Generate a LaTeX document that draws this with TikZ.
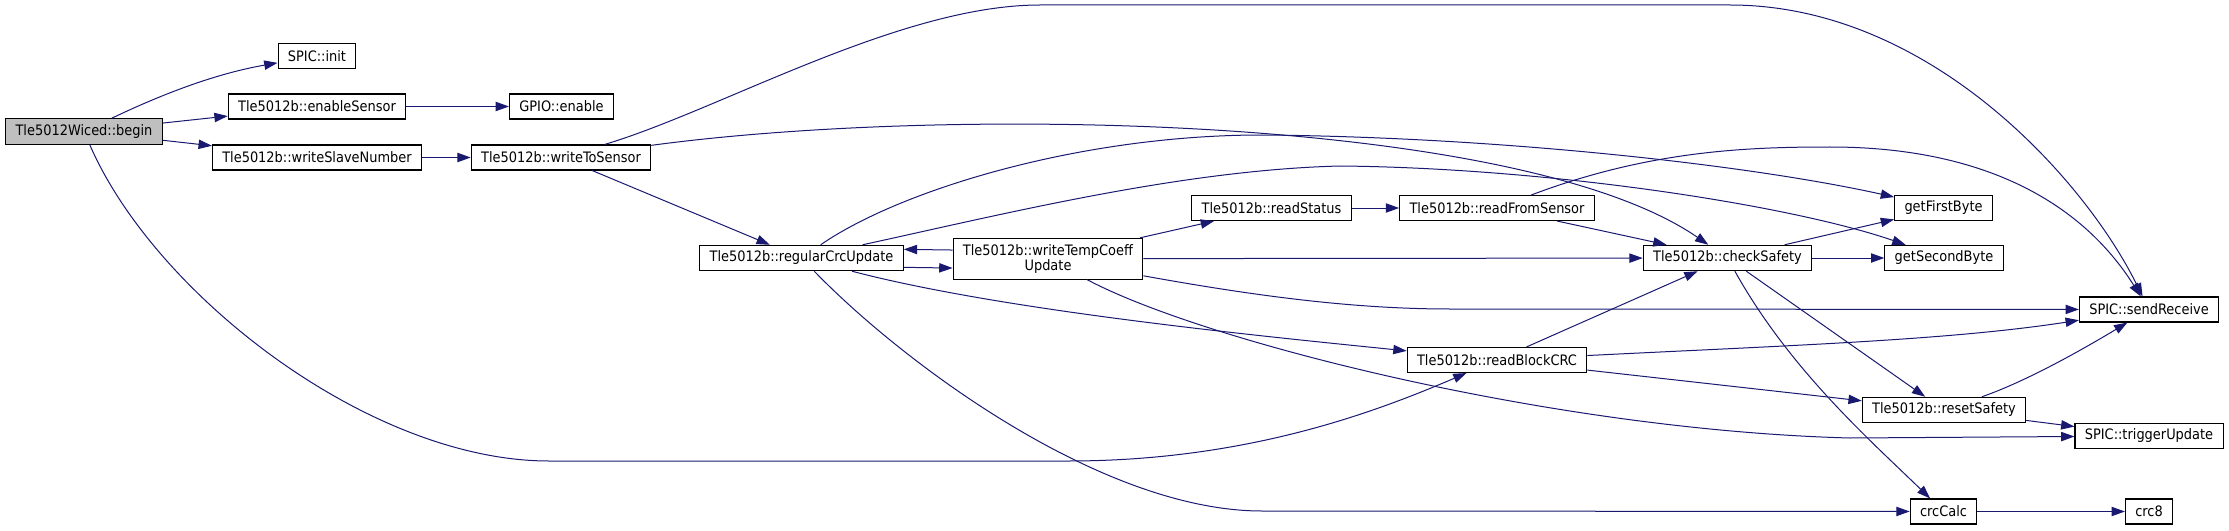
\documentclass[tikz,border=0pt]{standalone}
\usepackage{fontspec}
\newfontfamily\graphfont{DejaVu Sans Condensed}
\usetikzlibrary{arrows.meta}
\definecolor{edgeblue}{HTML}{191970}
\definecolor{rootgray}{HTML}{BFBFBF}
\begin{document}
\begin{tikzpicture}[
  x=0.75pt, y=-0.75pt,
  every node/.style={font=\graphfont\fontsize{10.8}{10.2}\selectfont},
  fn/.style={draw=black, line width=0.8pt, fill=white, inner xsep=7.4pt, inner ysep=4.3pt, minimum height=18.75pt, align=center},
  root/.style={fn, fill=rootgray},
  call/.style={draw=edgeblue, line width=0.75pt, -{Triangle[length=10pt, width=7pt]}}
]
\useasboundingbox (0,0) rectangle (2229,531);

% Functions
\node[root] (begin) at (84,131.5) {Tle5012Wiced::begin};
\node[fn] (init) at (317,56) {SPIC::init};
\node[fn] (enSensor) at (317,106.5) {Tle5012b::enableSensor};
\node[fn] (slaveNum) at (317,157.5) {Tle5012b::writeSlaveNumber};
\node[fn] (gpioEnable) at (561.5,106.5) {GPIO::enable};
\node[fn] (writeSensor) at (561,157.5) {Tle5012b::writeToSensor};
\node[fn] (regCrc) at (801.5,258) {Tle5012b::regularCrcUpdate};
\node[fn] (writeTemp) at (1048,258.7) {Tle5012b::writeTempCoeff\\Update};
\node[fn] (readStatus) at (1271.5,208) {Tle5012b::readStatus};
\node[fn] (readSensor) at (1497,208) {Tle5012b::readFromSensor};
\node[fn] (readCRC) at (1497,360) {Tle5012b::readBlockCRC};
\node[fn] (checkSafety) at (1727.5,258) {Tle5012b::checkSafety};
\node[fn] (firstByte) at (1943.5,208) {getFirstByte};
\node[fn] (secondByte) at (1944,258) {getSecondByte};
\node[fn] (resetSafety) at (1944,410) {Tle5012b::resetSafety};
\node[fn] (crcCalc) at (1943.5,511.5) {crcCalc};
\node[fn] (sendRecv) at (2149,309.5) {SPIC::sendReceive};
\node[fn] (trigger) at (2149,436) {SPIC::triggerUpdate};
\node[fn] (crc8) at (2149,511.5) {crc8};

% Calls from begin
\draw[call] (begin) .. controls (175,88) and (225,72) .. (init);
\draw[call] (begin) -- (enSensor);
\draw[call] (begin) -- (slaveNum);
\draw[call] (begin) .. controls (155,295) and (370,461) .. (549,461) -- (1068,461) .. controls (1250,461) and (1380,410) .. (readCRC);
\draw[call] (enSensor) -- (gpioEnable);
\draw[call] (slaveNum) -- (writeSensor);

% writeToSensor
\draw[call] (writeSensor) .. controls (720,110) and (900,5) .. (1040,5) -- (1730,5) .. controls (1930,5) and (2085,180) .. (sendRecv);
\draw[call] (writeSensor) .. controls (950,105) and (1520,115) .. (checkSafety);
\draw[call] (writeSensor) -- (regCrc);

% regularCrcUpdate
\draw[call] ([yshift=-7pt]regCrc.east) -- ([yshift=-7pt]writeTemp.west);
\draw[call] (regCrc) .. controls (900,190) and (1080,135) .. (1262,135) .. controls (1500,137) and (1750,165) .. (firstByte);
\draw[call] (regCrc) .. controls (1000,215) and (1180,170) .. (1340,166) .. controls (1550,168) and (1790,205) .. (secondByte);
\draw[call] (regCrc) .. controls (1000,310) and (1250,335) .. (readCRC);
\draw[call] (regCrc) .. controls (900,360) and (1100,511) .. (1262,511) -- (crcCalc);

% writeTempCoeffUpdate
\draw[call] ([yshift=6.5pt]writeTemp.west) -- ([yshift=6.5pt]regCrc.east);
\draw[call] (writeTemp) -- (readStatus);
\draw[call] (writeTemp) -- (checkSafety);
\draw[call] (writeTemp) .. controls (1250,295) and (1350,309) .. (1450,309) -- (sendRecv);
\draw[call] (writeTemp) .. controls (1200,340) and (1550,430) .. (1850,438) -- (trigger);

% readStatus / readFromSensor
\draw[call] (readStatus) -- (readSensor);
\draw[call] (readSensor) -- (checkSafety);
\draw[call] (readSensor) .. controls (1650,150) and (1750,147) .. (1830,147) .. controls (1980,147) and (2080,200) .. (sendRecv);

% checkSafety
\draw[call] (checkSafety) -- (firstByte);
\draw[call] (checkSafety) -- (secondByte);
\draw[call] (checkSafety) -- (resetSafety);
\draw[call] (checkSafety) .. controls (1790,370) and (1870,440) .. (crcCalc);

% readBlockCRC
\draw[call] (readCRC) -- (checkSafety);
\draw[call] (readCRC) .. controls (1800,345) and (1950,340) .. (sendRecv);
\draw[call] (readCRC) -- (resetSafety);

% resetSafety / crcCalc
\draw[call] (resetSafety) .. controls (2030,380) and (2090,345) .. (sendRecv);
\draw[call] (resetSafety) -- (trigger);
\draw[call] (crcCalc) -- (crc8);

\end{tikzpicture}
\end{document}
